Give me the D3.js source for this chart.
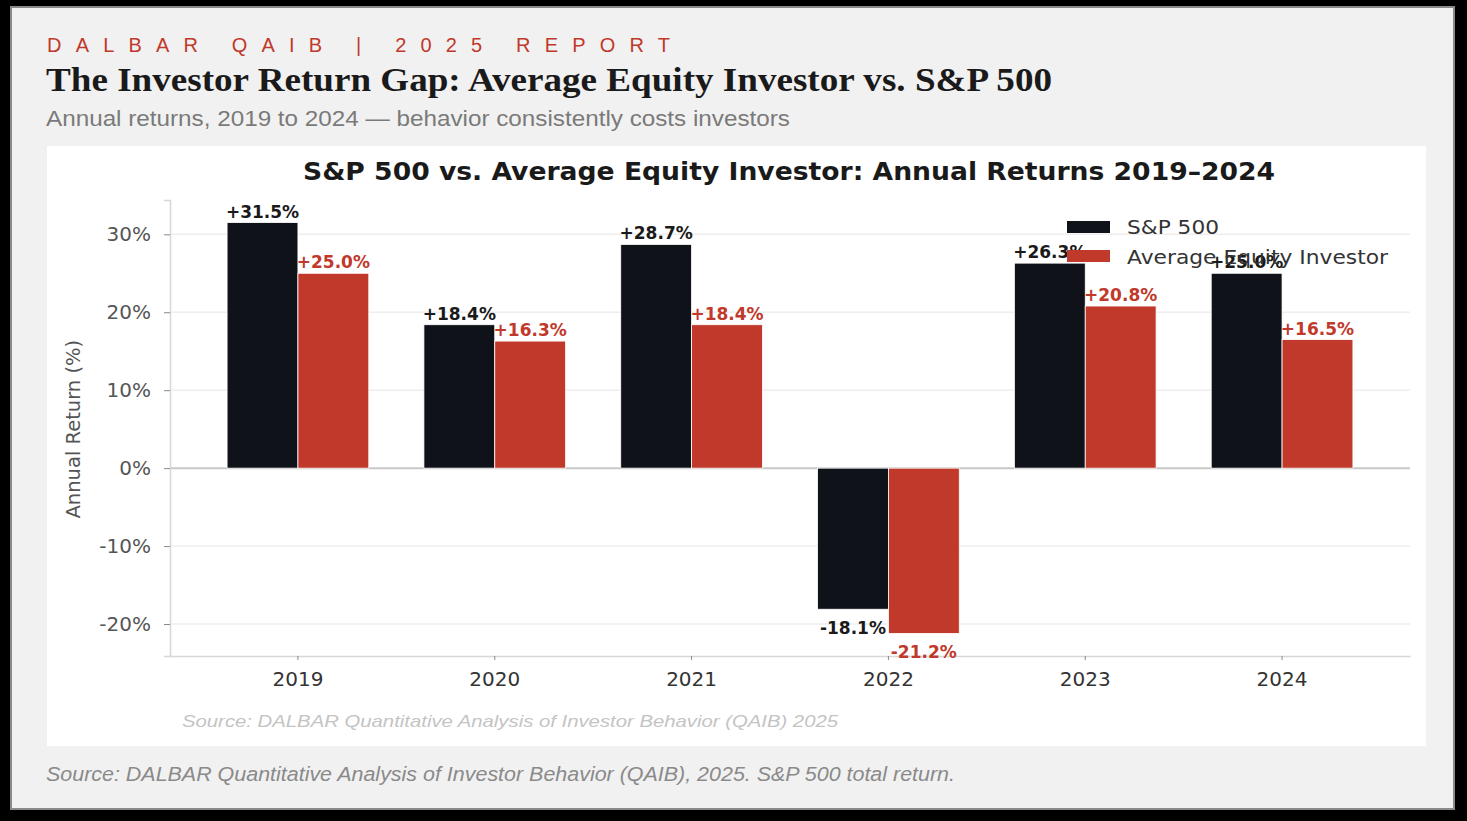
<!DOCTYPE html>
<html>
<head>
<meta charset="utf-8">
<script src="https://cdn.jsdelivr.net/npm/d3@7"></script>
<style>
  html, body { margin: 0; padding: 0; background: #000; }
  svg { display: block; }
</style>
</head>
<body>
<script>
// data
var years = ["2019", "2020", "2021", "2022", "2023", "2024"];
var sp500 = [31.5, 18.4, 28.7, -18.1, 26.3, 25.0];
var investor = [25.0, 16.3, 18.4, -21.2, 20.8, 16.5];
var seriesNames = ["S&P 500", "Average Equity Investor"];
var yTicks = [-20, -10, 0, 10, 20, 30];

var W = 1467, H = 821;
var BLACK = "#10121a", RED = "#c0392b";

var svg = d3.select("body").append("svg")
    .attr("width", W)
    .attr("height", H);

// page card
svg.append("rect").attr("x", 0).attr("y", 0).attr("width", W).attr("height", H).attr("fill", "#000");
svg.append("rect")
    .attr("x", 11).attr("y", 7).attr("width", 1443).attr("height", 802)
    .attr("fill", "#f1f1f1").attr("stroke", "#8a8a8a").attr("stroke-width", 2);

// header
svg.append("text")
    .attr("x", 47).attr("y", 52)
    .attr("fill", RED)
    .attr("textLength", 623)
    .attr("lengthAdjust", "spacing")
    .style("font-family", "'Liberation Sans', Arial, sans-serif")
    .style("font-size", "20px")
    .text("DALBAR QAIB  |  2025 REPORT");

svg.append("text")
    .attr("x", 46).attr("y", 91)
    .attr("fill", "#1a1a1a")
    .attr("textLength", 1006)
    .attr("lengthAdjust", "spacingAndGlyphs")
    .style("font-family", "'Liberation Serif', 'DejaVu Serif', serif")
    .style("font-weight", "bold")
    .style("font-size", "33px")
    .text("The Investor Return Gap: Average Equity Investor vs. S&P 500");

svg.append("text")
    .attr("x", 46).attr("y", 126)
    .attr("fill", "#7a7a7a")
    .attr("textLength", 744)
    .attr("lengthAdjust", "spacingAndGlyphs")
    .style("font-family", "'Liberation Sans', Arial, sans-serif")
    .style("font-size", "22px")
    .text("Annual returns, 2019 to 2024 \u2014 behavior consistently costs investors");

// white chart panel
svg.append("rect")
    .attr("x", 47).attr("y", 146).attr("width", 1379).attr("height", 600)
    .attr("fill", "#fff");

var m = {left: 170, right: 1410, top: 200, bottom: 656};

var x = d3.scaleBand()
    .domain(years)
    .range([m.left, m.right])
    .paddingInner(0.28)
    .paddingOuter(0.29);

var xs = d3.scaleBand()
    .domain(seriesNames)
    .range([0, x.bandwidth()]);

var y = d3.scaleLinear()
    .domain([-24.1, 34.4])
    .range([m.bottom, m.top]);

// grid
svg.append("g").selectAll("line")
    .data(yTicks).enter().append("line")
    .attr("x1", m.left).attr("x2", m.right)
    .attr("y1", d => y(d)).attr("y2", d => y(d))
    .attr("stroke", d => d === 0 ? "#c8c8c8" : "#eeeeee")
    .attr("stroke-width", d => d === 0 ? 2 : 1.5);

// y axis
var yAxis = svg.append("g")
    .attr("transform", "translate(" + m.left + ",0)")
    .call(d3.axisLeft(y).tickValues(yTicks).tickFormat(d => d + "%").tickSize(6).tickPadding(13));
yAxis.select(".domain").attr("stroke", "#d6d6d6").attr("stroke-width", 1.5);
yAxis.selectAll(".tick line").attr("stroke", "#888");
yAxis.selectAll(".tick text")
    .attr("fill", "#555")
    .style("font-family", "'DejaVu Sans', sans-serif")
    .style("font-size", "20px");

// x axis
var xAxis = svg.append("g")
    .attr("transform", "translate(0," + m.bottom + ")")
    .call(d3.axisBottom(x).tickSize(4).tickPadding(12).tickSizeOuter(0));
xAxis.select(".domain").attr("stroke", "#d6d6d6").attr("stroke-width", 1.5);
xAxis.selectAll(".tick line").attr("stroke", "#888");
xAxis.selectAll(".tick text")
    .attr("fill", "#333")
    .style("font-family", "'DejaVu Sans', sans-serif")
    .style("font-size", "20px");

svg.append("text")
    .attr("transform", "translate(80," + y(5) + ") rotate(-90)")
    .attr("text-anchor", "middle")
    .attr("fill", "#555")
    .style("font-family", "'DejaVu Sans', sans-serif")
    .style("font-size", "19.5px")
    .text("Annual Return (%)");

// bars
var rows = [];
years.forEach(function(yr, i){
    rows.push({year: yr, s: seriesNames[0], v: sp500[i], c: BLACK});
    rows.push({year: yr, s: seriesNames[1], v: investor[i], c: RED});
});

svg.append("g").selectAll("rect")
    .data(rows).enter().append("rect")
    .attr("x", d => x(d.year) + xs(d.s))
    .attr("width", xs.bandwidth())
    .attr("y", d => y(Math.max(0, d.v)))
    .attr("height", d => Math.abs(y(d.v) - y(0)))
    .attr("fill", d => d.c)
    .attr("stroke", "#fff")
    .attr("stroke-width", 0.8);

// value labels
svg.append("g").selectAll("text")
    .data(rows).enter().append("text")
    .attr("x", d => x(d.year) + xs(d.s) + xs.bandwidth() / 2)
    .attr("y", d => d.v >= 0 ? y(d.v) - 5 : y(d.v) + 25)
    .attr("text-anchor", "middle")
    .attr("fill", d => d.c === RED ? RED : "#1a1a1a")
    .style("font-family", "'DejaVu Sans', sans-serif")
    .style("font-weight", "bold")
    .style("font-size", "17px")
    .text(d => (d.v >= 0 ? "+" : "") + d.v.toFixed(1) + "%");

// chart title
svg.append("text")
    .attr("x", 303).attr("y", 180)
    .attr("fill", "#1a1a1a")
    .attr("textLength", 972)
    .attr("lengthAdjust", "spacingAndGlyphs")
    .style("font-family", "'DejaVu Sans', sans-serif")
    .style("font-weight", "bold")
    .style("font-size", "24px")
    .text("S&P 500 vs. Average Equity Investor: Annual Returns 2019\u20132024");

// legend
var legend = svg.append("g").attr("transform", "translate(1067,221)");
var legendLen = [92, 261];
seriesNames.forEach(function(name, i){
    legend.append("rect")
        .attr("x", 0).attr("y", i * 29)
        .attr("width", 43).attr("height", 12)
        .attr("fill", i === 0 ? BLACK : RED);
    legend.append("text")
        .attr("x", 60).attr("y", i * 30 + 13)
        .attr("fill", "#333")
        .attr("textLength", legendLen[i])
        .attr("lengthAdjust", "spacingAndGlyphs")
        .style("font-family", "'DejaVu Sans', sans-serif")
        .style("font-size", "19.5px")
        .text(name);
});

// sources
svg.append("text")
    .attr("x", 182).attr("y", 727)
    .attr("fill", "#c4c4c4")
    .attr("textLength", 656)
    .attr("lengthAdjust", "spacingAndGlyphs")
    .style("font-family", "'Liberation Sans', Arial, sans-serif")
    .style("font-style", "italic")
    .style("font-size", "17px")
    .text("Source: DALBAR Quantitative Analysis of Investor Behavior (QAIB) 2025");

svg.append("text")
    .attr("x", 46).attr("y", 781)
    .attr("fill", "#8a8a8a")
    .attr("textLength", 909)
    .attr("lengthAdjust", "spacingAndGlyphs")
    .style("font-family", "'Liberation Sans', Arial, sans-serif")
    .style("font-style", "italic")
    .style("font-size", "20px")
    .text("Source: DALBAR Quantitative Analysis of Investor Behavior (QAIB), 2025. S&P 500 total return.");
</script>
</body>
</html>
